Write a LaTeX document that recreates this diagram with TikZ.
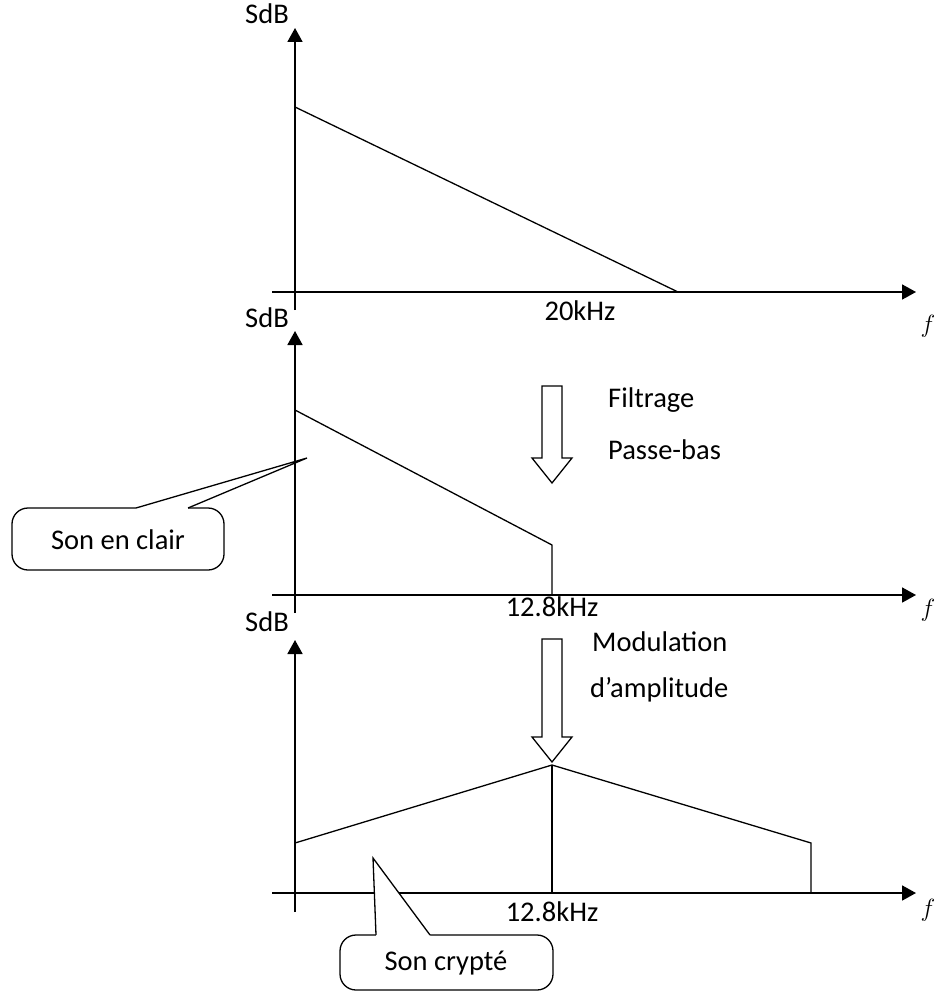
\documentclass[tikz,border=0pt]{standalone}
\usepackage{fontspec}
\setmainfont{Carlito}
\usetikzlibrary{arrows.meta}

\begin{document}
\begin{tikzpicture}[x=1pt, y=-1pt,
	% Define styles for axes, spectra, labels and callouts
	axis line/.style={line width=1.8pt, -{Triangle[length=14pt, width=15pt]}},
	spectrum/.style={line width=1.3pt},
	lbl/.style={font=\fontsize{28.5}{32}\selectfont, inner sep=0pt},
	flabel/.style={font=\fontsize{28}{32}\selectfont, inner sep=0pt},
	hollow arrow/.style={line width=1.3pt, fill=white},
	callout box/.style={line width=1.3pt, rounded corners=16pt},
	callout tip/.style={line width=1.3pt}
	]
	
	\useasboundingbox (0,0) rectangle (940,992);
	
	% --- Panel 1: original sound ---
	\coordinate (O1x) at (272,292);
	\coordinate (O1y) at (295,310);
	\draw[axis line] (O1x) -- (916,292);
	\draw[axis line] (O1y) -- (295,28);
	\node[lbl, anchor=east] (sdb1) at (289,14) {SdB};
	\node[flabel] (f1) at (928,326) {$f$};
	\draw[spectrum] (295,107) -- (678,292);
	\node[lbl] (k20) at (580,311) {20kHz};
	
	% --- Panel 2: low-pass filtered ---
	\coordinate (O2x) at (272,595);
	\coordinate (O2y) at (295,613);
	\draw[axis line] (O2x) -- (916,595);
	\draw[axis line] (O2y) -- (295,331);
	\node[lbl, anchor=east] (sdb2) at (289,318) {SdB};
	\node[flabel] (f2) at (928,610) {$f$};
	\draw[spectrum] (295,410) -- (552,545) -- (552,595);
	\node[lbl] (k128a) at (552,607) {12.8kHz};
	
	% --- Filter arrow ---
	\draw[hollow arrow] (542,386) -- (562,386) -- (562,458) -- (572,458)
		-- (552,483) -- (532,458) -- (542,458) -- cycle;
	\node[lbl, anchor=west] (filt) at (608,400) {Filtrage};
	\node[lbl, anchor=west] (pbas) at (608,450) {Passe-bas};
	
	% --- Callout: clear sound ---
	\draw[callout box] (12,508) rectangle (224,570);
	\fill[white] (136,508) -- (307,458) -- (188,508) -- (188,511) -- (136,511) -- cycle;
	\draw[callout tip] (136,508) -- (307,458) -- (188,508);
	\node[lbl] (clair) at (118,540) {Son en clair};
	
	% --- Panel 3: modulated ---
	\coordinate (O3x) at (272,893);
	\coordinate (O3y) at (295,912);
	\draw[axis line] (O3x) -- (916,893);
	\draw[axis line] (O3y) -- (295,640);
	\node[lbl, anchor=east] (sdb3) at (289,622) {SdB};
	\node[flabel] (f3) at (928,910) {$f$};
	\draw[spectrum] (295,843) -- (552,765) -- (811,843) -- (811,893);
	\draw[spectrum] (552,765) -- (552,893);
	\node[lbl] (k128b) at (552,912) {12.8kHz};
	
	% --- Modulation arrow ---
	\draw[hollow arrow] (542,639) -- (562,639) -- (562,737) -- (572,737)
		-- (552,762) -- (532,737) -- (542,737) -- cycle;
	\node[lbl, anchor=west] (modu) at (592,642) {Modulation};
	\node[lbl, anchor=west] (ampl) at (590,690) {d’amplitude};
	
	% --- Callout: encrypted sound ---
	\draw[callout box] (340,935) rectangle (553,990);
	\fill[white] (376,935) -- (373,858) -- (430,935) -- (430,938) -- (376,938) -- cycle;
	\draw[callout tip] (376,935) -- (373,858) -- (430,935);
	\node[lbl] (crypte) at (446,963) {Son crypté};
\end{tikzpicture}
\end{document}
